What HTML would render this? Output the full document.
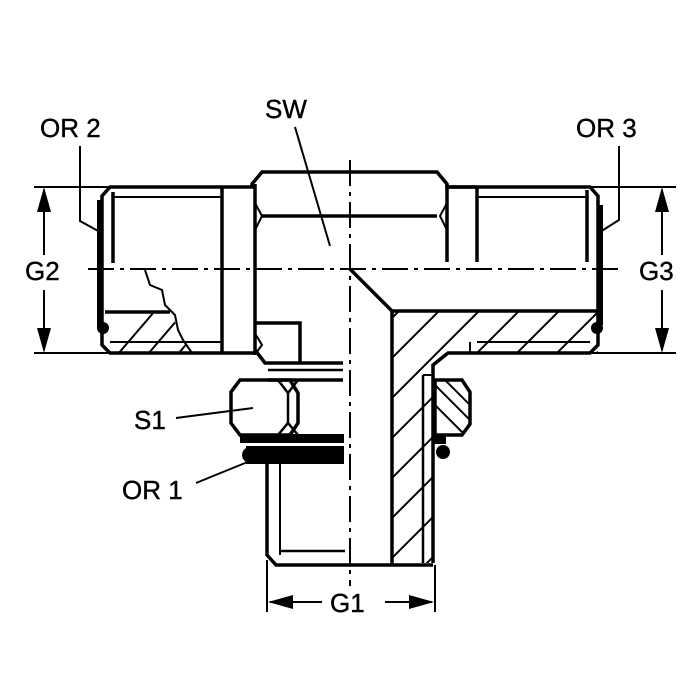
<!DOCTYPE html>
<html><head><style>body{margin:0;background:#fff}svg{display:block}text{font-family:"Liberation Sans",Arial,sans-serif;font-size:26px;fill:#000;stroke:#000;stroke-width:0.4}</style></head>
<body>
<svg width="700" height="700" viewBox="0 0 700 700" xmlns="http://www.w3.org/2000/svg">
<defs>
<clipPath id="hR"><path d="M350,269 L392,311 L598,311 L598,353 L448,353 L433,365 L433,563 L392,563 L392,311 Z"/></clipPath>
<clipPath id="hL"><path d="M105,312 L170,312 L190,353 L110,353 L105,345Z"/></clipPath>
<clipPath id="hN"><path d="M435,380 L462,380 L470,390 L470,425 L462,435 L435,435Z"/></clipPath>
</defs>
<g stroke="#000" fill="none" stroke-width="2">
<line x1="34" y1="187" x2="108" y2="187"/><line x1="34" y1="353" x2="108" y2="353"/>
<line x1="590" y1="187" x2="676" y2="187"/><line x1="590" y1="353" x2="676" y2="353"/>
<line x1="44" y1="190" x2="44" y2="255"/><line x1="44" y1="290" x2="44" y2="350"/>
<line x1="662" y1="190" x2="662" y2="255"/><line x1="662" y1="290" x2="662" y2="350"/>
<line x1="267" y1="560" x2="267" y2="612"/><line x1="435" y1="565" x2="435" y2="612"/>
<line x1="270" y1="602" x2="322" y2="602"/><line x1="385" y1="602" x2="432" y2="602"/>
<polyline points="80,146 80,221 100,232"/>
<polyline points="619,146 619,220 600,232"/>
<line x1="295" y1="127" x2="330" y2="246"/>
<line x1="176" y1="418" x2="253" y2="408"/>
<line x1="196" y1="483" x2="250" y2="461"/>
<line x1="88" y1="269" x2="620" y2="269" stroke-dasharray="26,6,4,6"/>
<line x1="350" y1="160" x2="350" y2="586" stroke-dasharray="26,6,4,6"/>
</g>
<g fill="#000">
<polygon points="44,187 37,212 51,212"/><polygon points="44,353 37,328 51,328"/>
<polygon points="662,187 655,212 669,212"/><polygon points="662,353 655,328 669,328"/>
<polygon points="268,602 293,595 293,609"/><polygon points="434,602 409,595 409,609"/>
</g>
<g stroke="#000" stroke-width="2">
<g clip-path="url(#hR)">
<path d="M360,350 L420,290 M360,390 L460,290 M360,430 L500,290 M360,470 L540,290 M360,510 L580,290 M360,550 L620,290 M360,590 L660,290 M380,610 L680,310"/>
</g>
<g clip-path="url(#hL)"><path d="M100,375 L160,305 M130,375 L190,305 M160,375 L220,305"/></g>
<g clip-path="url(#hN)"><path d="M430,380 L470,420 M435,370 L480,415 M425,395 L465,435"/></g>
</g>
<g stroke="#000" fill="none" stroke-width="3.5" stroke-linejoin="miter">
<polyline points="222,187 110,187 102,196 102,345 110,353 222,353"/>
<line x1="112" y1="197" x2="222" y2="197" stroke-width="2"/>
<line x1="113" y1="192" x2="113" y2="263"/>
<line x1="105" y1="312" x2="170" y2="312"/>
<line x1="110" y1="342" x2="222" y2="342" stroke-width="2"/>
<line x1="222" y1="187" x2="222" y2="353"/>
<path d="M145,270 L150,285 L162,290 L165,305 L175,315 L178,330 L183,340 L192,353" stroke-width="2"/>
<polyline points="222,187 252,187 252,184 262,172 437,172 447,184 447,187 475,187"/>
<line x1="255" y1="184" x2="255" y2="355"/>
<line x1="262" y1="216" x2="437" y2="216"/>
<polyline points="255,203 262,216 255,230" stroke-width="2"/>
<polyline points="447,203 440,216 447,230" stroke-width="2"/>
<line x1="447" y1="184" x2="447" y2="262"/>
<line x1="222" y1="353" x2="255" y2="353"/>
<polyline points="255,350 265,363 343,363"/>
<polyline points="256,323 300,323 300,363"/>
<polyline points="256,335 262,345 256,353" stroke-width="2"/>
<line x1="268" y1="370" x2="343" y2="370" stroke-width="2.5"/>
<line x1="268" y1="380" x2="343" y2="380"/>
<polyline points="447,187 590,187 598,196 598,345 590,353 448,353 433,365 433,563"/>
<line x1="477" y1="187" x2="477" y2="262"/>
<line x1="587" y1="190" x2="587" y2="262"/>
<line x1="477" y1="197" x2="587" y2="197" stroke-width="2"/>
<line x1="477" y1="342" x2="590" y2="342" stroke-width="2"/>
<line x1="470" y1="342" x2="470" y2="353" stroke-width="2"/>
<polyline points="350,269 392,311 598,311"/>
<line x1="392" y1="311" x2="392" y2="565"/>
<line x1="423" y1="375" x2="423" y2="563" stroke-width="2.5"/>
<line x1="423" y1="375" x2="433" y2="375" stroke-width="2"/>
<polyline points="267,463 267,555 276,565 433,565"/>
<line x1="280" y1="463" x2="280" y2="555" stroke-width="2"/>
<line x1="280" y1="551" x2="345" y2="551" stroke-width="2.5"/>
<polygon points="240,380 290,380 298,393 298,423 290,435 240,435 231,423 231,392"/>
<polyline points="278,380 288,393 298,380" stroke-width="2.5"/>
<polyline points="278,435 288,423 298,435" stroke-width="2.5"/>
<line x1="288" y1="393" x2="288" y2="423" stroke-width="2.5"/>
<polygon points="435,380 462,380 470,392 470,424 462,435 435,435"/>
</g>
<g fill="#000">
<rect x="240" y="434" width="104" height="9"/>
<rect x="246" y="446" width="98" height="18"/>
<circle cx="250" cy="455" r="8"/>
<circle cx="443" cy="452" r="7"/>
<rect x="433" y="436" width="13" height="8"/>
<rect x="97" y="200" width="6" height="128"/>
<circle cx="103" cy="328" r="6"/>
<rect x="597" y="205" width="6" height="120"/>
<circle cx="597" cy="328" r="6"/>
</g>
<text x="40" y="137">OR 2</text>
<text x="576" y="137">OR 3</text>
<text x="265" y="118">SW</text>
<text x="25" y="280">G2</text>
<text x="639" y="280">G3</text>
<text x="134" y="429">S1</text>
<text x="122" y="499">OR 1</text>
<text x="330" y="612">G1</text>
</svg>
</body></html>
